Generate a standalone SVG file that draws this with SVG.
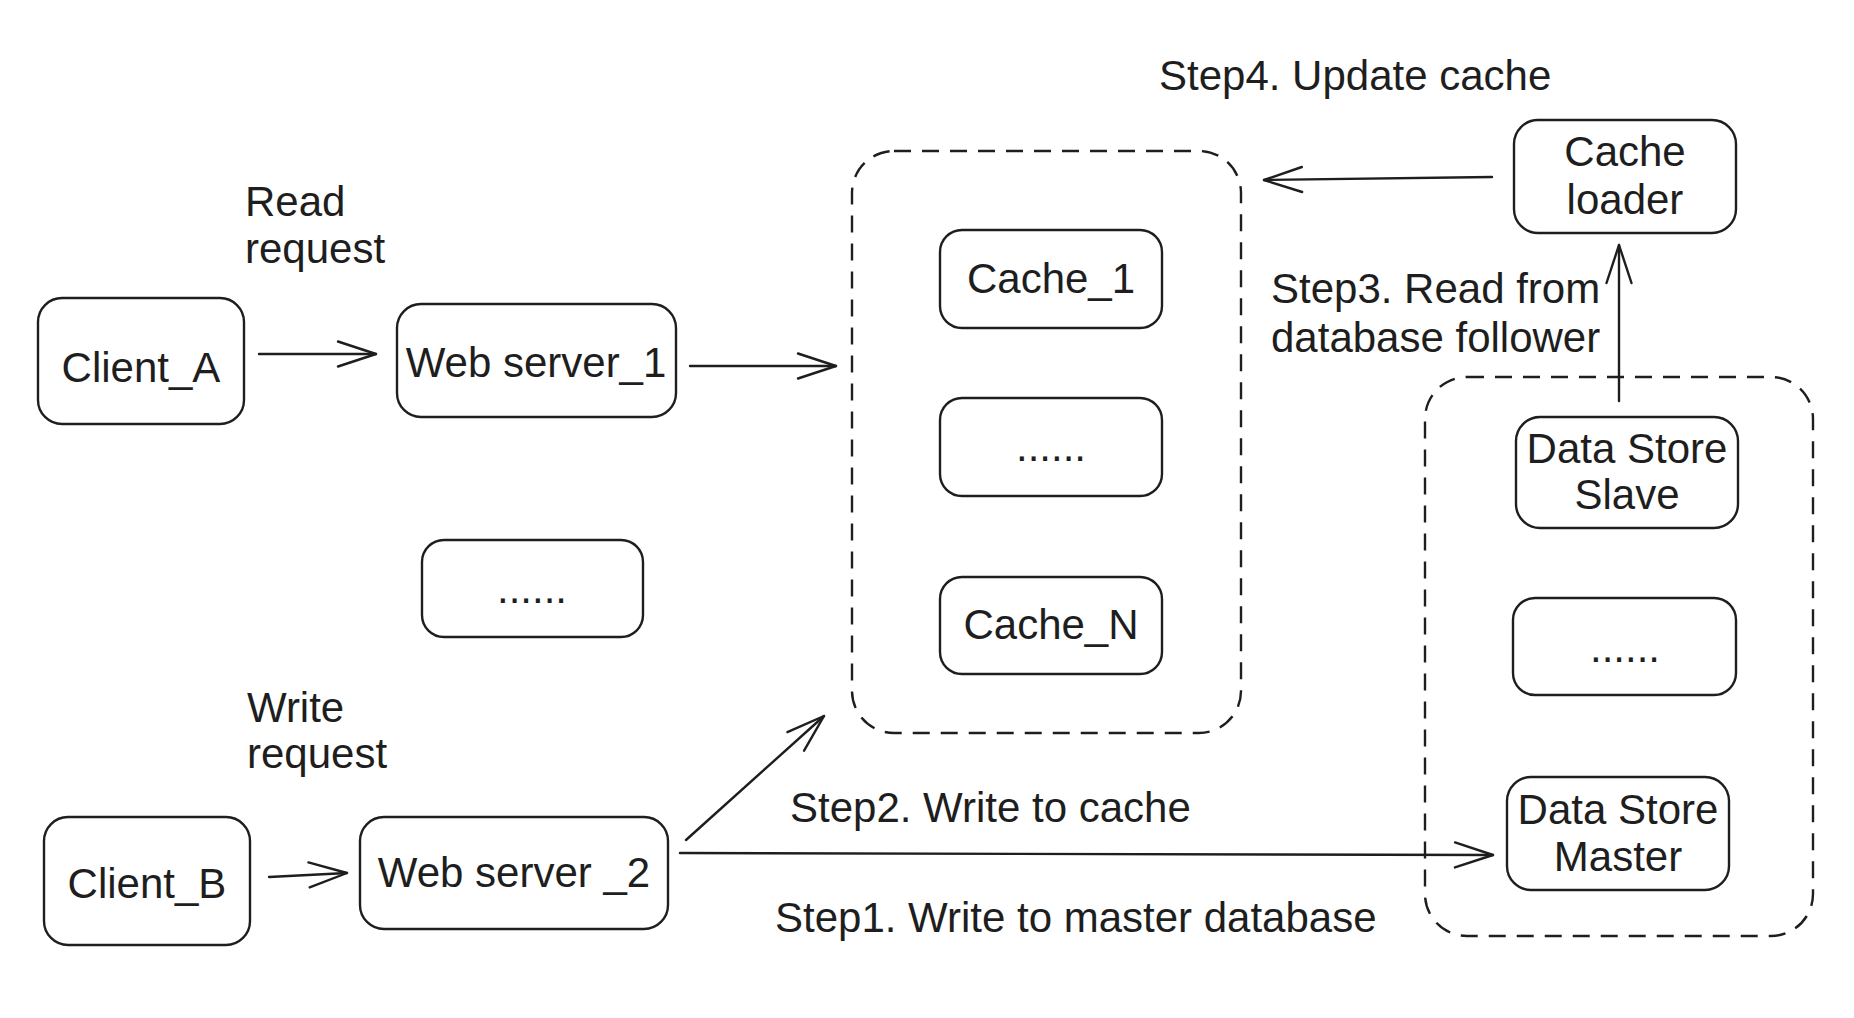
<svg xmlns="http://www.w3.org/2000/svg" width="1854" height="1018" viewBox="0 0 1854 1018">
<style>
  .box{fill:#ffffff;stroke:#1e1e1e;stroke-width:2.4}
  .group{fill:none;stroke:#1e1e1e;stroke-width:2.4;stroke-dasharray:17 11}
  .lbl{font-family:"Liberation Sans",Arial,Helvetica,sans-serif;font-size:42px;fill:#1e1e1e;text-anchor:middle}
  .free{font-family:"Liberation Sans",Arial,Helvetica,sans-serif;font-size:42px;fill:#1e1e1e}
  .conn{fill:none;stroke:#1e1e1e;stroke-width:2.4;stroke-linecap:round}
</style>
<defs>
  <marker id="arrow" viewBox="-42 -16 46 32" refX="0" refY="0" markerWidth="46" markerHeight="32" markerUnits="userSpaceOnUse" orient="auto">
    <path d="M-38,-12.5 L0,0 L-38,12.5" fill="none" stroke="#1e1e1e" stroke-width="2.4" stroke-linecap="round" stroke-linejoin="round"/>
  </marker>
</defs>
<rect width="1854" height="1018" fill="#ffffff"/>

<g id="cache-cluster">
  <rect class="group" x="852" y="151" width="389" height="582" rx="42"/>
</g>
<g id="datastore-cluster">
  <rect class="group" x="1425" y="377" width="388" height="559" rx="42"/>
</g>

<g id="client-a">
  <rect class="box" x="38" y="298" width="206" height="126" rx="24"/>
  <text class="lbl" x="141" y="382">Client_A</text>
</g>
<g id="web-server-1">
  <rect class="box" x="397" y="304" width="279" height="113" rx="24"/>
  <text class="lbl" x="536" y="377">Web server_1</text>
</g>
<g id="web-dots">
  <rect class="box" x="422" y="540" width="221" height="97" rx="22"/>
  <text class="lbl" x="532" y="603">......</text>
</g>
<g id="client-b">
  <rect class="box" x="44" y="817" width="206" height="128" rx="24"/>
  <text class="lbl" x="147" y="898">Client_B</text>
</g>
<g id="web-server-2">
  <rect class="box" x="360" y="817" width="308" height="112" rx="24"/>
  <text class="lbl" x="514" y="887">Web server _2</text>
</g>
<g id="cache-1">
  <rect class="box" x="940" y="230" width="222" height="98" rx="22"/>
  <text class="lbl" x="1051" y="293">Cache_1</text>
</g>
<g id="cache-dots">
  <rect class="box" x="940" y="398" width="222" height="98" rx="22"/>
  <text class="lbl" x="1051" y="461">......</text>
</g>
<g id="cache-n">
  <rect class="box" x="940" y="577" width="222" height="97" rx="22"/>
  <text class="lbl" x="1051" y="639">Cache_N</text>
</g>
<g id="cache-loader">
  <rect class="box" x="1514" y="120" width="222" height="113" rx="24"/>
  <text class="lbl" x="1625" y="166">Cache</text>
  <text class="lbl" x="1625" y="214">loader</text>
</g>
<g id="ds-slave">
  <rect class="box" x="1516" y="417" width="222" height="111" rx="24"/>
  <text class="lbl" x="1627" y="463">Data Store</text>
  <text class="lbl" x="1627" y="509">Slave</text>
</g>
<g id="ds-dots">
  <rect class="box" x="1513" y="598" width="223" height="97" rx="22"/>
  <text class="lbl" x="1625" y="662">......</text>
</g>
<g id="ds-master">
  <rect class="box" x="1507" y="777" width="222" height="113" rx="24"/>
  <text class="lbl" x="1618" y="824">Data Store</text>
  <text class="lbl" x="1618" y="871">Master</text>
</g>

<g id="connectors">
  <path class="conn" d="M259,354 L376,354" marker-end="url(#arrow)"/>
  <path class="conn" d="M690,366 L836,366" marker-end="url(#arrow)"/>
  <path class="conn" d="M1492,177 L1264,180" marker-end="url(#arrow)"/>
  <path class="conn" d="M1619,401 L1619,245" marker-end="url(#arrow)"/>
  <path class="conn" d="M269,877 L347,873" marker-end="url(#arrow)"/>
  <path class="conn" d="M686,840 L824,716" marker-end="url(#arrow)"/>
  <path class="conn" d="M680,853 L1493,855" marker-end="url(#arrow)"/>
</g>

<g id="labels">
  <text class="free" x="245" y="216">Read</text>
  <text class="free" x="245" y="263">request</text>
  <text class="free" x="247" y="722">Write</text>
  <text class="free" x="247" y="768">request</text>
  <text class="free" x="1159" y="90">Step4. Update cache</text>
  <text class="free" x="1271" y="303">Step3. Read from</text>
  <text class="free" x="1271" y="352">database follower</text>
  <text class="free" x="790" y="822">Step2. Write to cache</text>
  <text class="free" x="775" y="932">Step1. Write to master database</text>
</g>
</svg>
